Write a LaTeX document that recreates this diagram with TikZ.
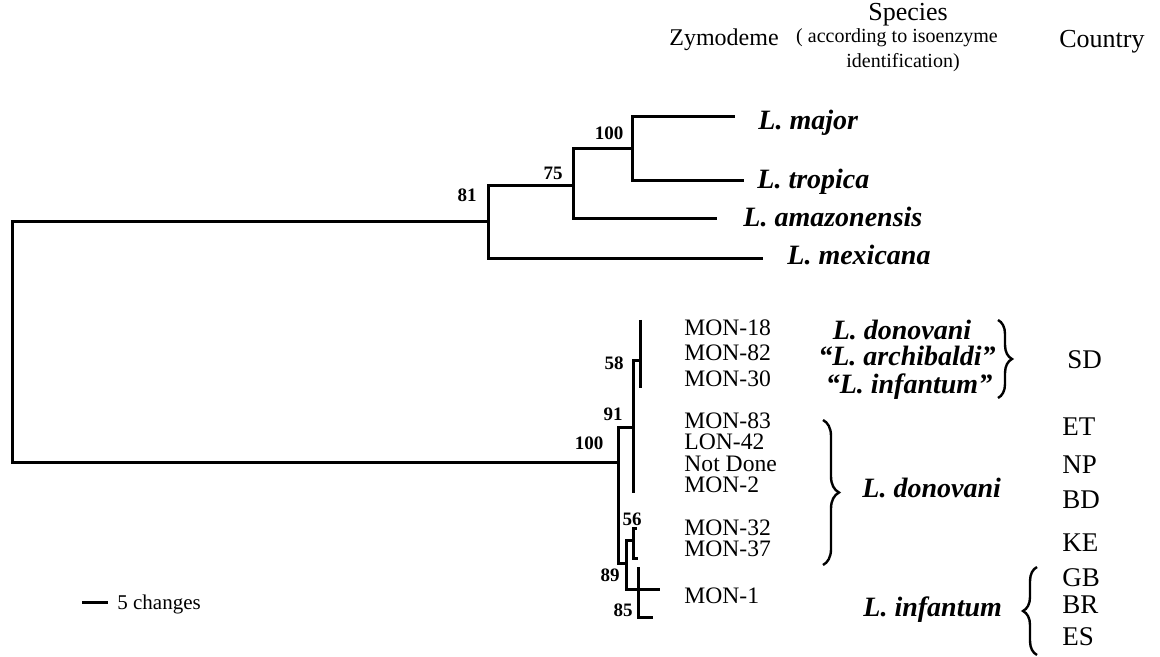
\documentclass[tikz,border=0pt]{standalone}
\usepackage{fontspec}
\setmainfont{Liberation Serif}
\usetikzlibrary{decorations.pathreplacing}

\begin{document}
\begin{tikzpicture}[x=0.5pt,y=-0.5pt,
    every node/.style={inner sep=0pt},
    branch/.style={line width=1.5pt},
    boot/.style={font=\fontsize{9.5}{9.5}\selectfont\bfseries},
    zym/.style={anchor=base west,font=\fontsize{11.8}{11.8}\selectfont},
    spec/.style={font=\fontsize{14}{14}\selectfont\bfseries\itshape},
    ctry/.style={anchor=base west,font=\fontsize{13.5}{13.5}\selectfont},
    head/.style={anchor=base,font=\fontsize{12}{12}\selectfont},
    curly/.style={decorate,decoration={brace,amplitude=#1},line width=1.2pt}]
    \useasboundingbox (0,0) rectangle (1160,657);

    % column heads
    \node[head] (hzym) at (724,46) {Zymodeme};
    \node[head,font=\fontsize{13}{13}\selectfont] (hspec) at (908,21) {Species};
    \node[anchor=base,font=\fontsize{10}{10}\selectfont] (hspec2) at (897,43) {( according to isoenzyme};
    \node[anchor=base,font=\fontsize{10}{10}\selectfont] (hspec3) at (903,68) {identification)};
    \node[head,font=\fontsize{13}{13}\selectfont] (hctry) at (1102,48) {Country};

    % tree points
    \coordinate (root) at (12,342);
    \coordinate (n81) at (488,222);
    \coordinate (n75) at (573,186);
    \coordinate (n100a) at (632,149);
    \coordinate (lmaj) at (735,117);
    \coordinate (ltro) at (744,181);
    \coordinate (lama) at (717,219);
    \coordinate (lmex) at (763,259);
    \coordinate (n100b) at (618,462);
    \coordinate (n91) at (633,427);
    \coordinate (n58) at (640,360);
    \coordinate (sdtop) at (640,320);
    \coordinate (sdbot) at (640,388);
    \coordinate (donbot) at (633,493);
    \coordinate (n89) at (626,563);
    \coordinate (n56) at (633,540);
    \coordinate (l32) at (637,528);
    \coordinate (l37) at (638,558);
    \coordinate (n85) at (638,589);
    \coordinate (l1top) at (638,567);
    \coordinate (l1a) at (660,589);
    \coordinate (l1b) at (653,617);

    % branches
    \draw[branch] (root) |- (n81) (root) |- (n100b);
    \draw[branch] (n81) |- (n75) (n81) |- (lmex);
    \draw[branch] (n75) |- (n100a) (n75) |- (lama);
    \draw[branch] (n100a) |- (lmaj) (n100a) |- (ltro);
    \draw[branch] (n100b) |- (n91) (n100b) |- (n89);
    \draw[branch] (n91) |- (n58) (n91) -- (donbot);
    \draw[branch] (sdtop) -- (sdbot);
    \draw[branch] (n89) |- (n56) (n89) |- (n85);
    \draw[branch] (n56) |- (l32) (n56) |- (l37);
    \draw[branch] (l1top) -- (n85) -- (l1a) (n85) |- (l1b);

    % bootstrap values
    \node[boot] (b81) at (467,195) {81};
    \node[boot] (b75) at (553,173) {75};
    \node[boot] (b100a) at (609,133) {100};
    \node[boot] (b58) at (614,363) {58};
    \node[boot] (b91) at (613,414) {91};
    \node[boot] (b100b) at (589,443) {100};
    \node[boot] (b56) at (632,519) {56};
    \node[boot] (b89) at (610,575) {89};
    \node[boot] (b85) at (623,610) {85};

    % outgroup species
    \node[spec,anchor=base west] (smaj) at (758,130) {L. major};
    \node[spec,anchor=base west] (stro) at (757,189) {L. tropica};
    \node[spec,anchor=base west] (sama) at (743,227) {L. amazonensis};
    \node[spec,anchor=base west] (smex) at (787,265) {L. mexicana};

    % zymodemes
    \node[zym] (z18) at (684,335.5) {MON-18};
    \node[zym] (z82) at (684,360.5) {MON-82};
    \node[zym] (z30) at (684,386.5) {MON-30};
    \node[zym] (z83) at (684,428.5) {MON-83};
    \node[zym] (l42) at (684,449.5) {LON-42};
    \node[zym] (znd) at (684,471) {Not Done};
    \node[zym] (z2) at (684,492) {MON-2};
    \node[zym] (z32) at (684,535) {MON-32};
    \node[zym] (z37) at (684,556.5) {MON-37};
    \node[zym] (z1) at (684,603.5) {MON-1};

    % species by isoenzymes
    \node[spec,anchor=base] (sdon1) at (902,339) {L. donovani};
    \node[spec,anchor=base] (sarc) at (907,365) {“L. archibaldi”};
    \node[spec,anchor=base] (sinf1) at (909,393) {“L. infantum”};
    \node[spec,anchor=base west] (sdon2) at (862,497) {L. donovani};
    \node[spec,anchor=base west] (sinf2) at (863,616) {L. infantum};
    \draw[curly=7pt] (998,320) -- (998,398);
    \draw[curly=8pt] (823,420) -- (823,565);
    \draw[curly=7pt] (1037,655) -- (1037,567);

    % countries
    \node[ctry] (csd) at (1067,368.5) {SD};
    \node[ctry] (cet) at (1062,435.5) {ET};
    \node[ctry] (cnp) at (1062,473.5) {NP};
    \node[ctry] (cbd) at (1062,508.5) {BD};
    \node[ctry] (cke) at (1062,551.5) {KE};
    \node[ctry] (cgb) at (1062,586.5) {GB};
    \node[ctry] (cbr) at (1062,613.5) {BR};
    \node[ctry] (ces) at (1062,645.5) {ES};

    % scale
    \coordinate (sca) at (82,602);
    \coordinate (scb) at (108,602);
    \draw[branch] (sca) -- (scb);
    \node[anchor=base west,font=\fontsize{10.5}{10.5}\selectfont] (sclab) at (117,609) {5 changes};
\end{tikzpicture}
\end{document}
